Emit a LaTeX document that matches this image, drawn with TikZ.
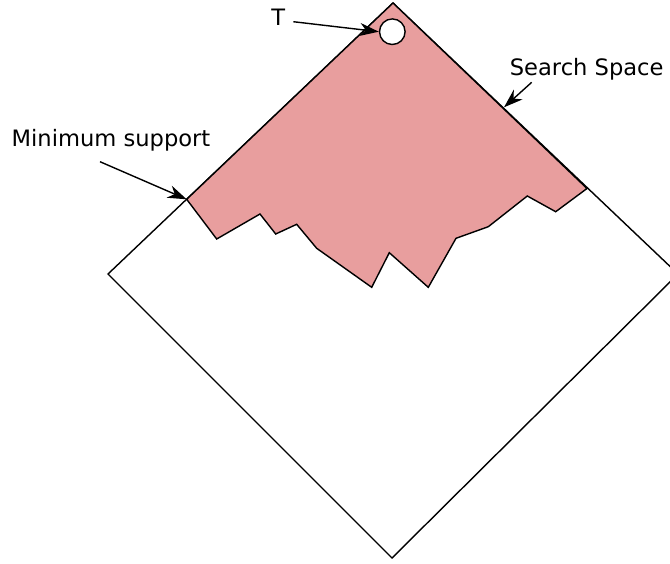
\documentclass[tikz,border=0pt]{standalone}
\usepackage{fontspec}
\setmainfont{DejaVu Sans}
\usetikzlibrary{arrows.meta}
\definecolor{regionfill}{RGB}{232,158,158}
\begin{document}
\begin{tikzpicture}[x=1pt,y=-1pt, line width=1.4pt, line join=miter,
  lbl/.style={font=\fontsize{22.6}{26}\selectfont, inner sep=0pt, anchor=base},
  pointer/.style={-{Stealth[length=19pt,width=13pt,inset=6pt]}, line width=1.4pt}]
\useasboundingbox (0,0) rectangle (670,563);
\clip (0,0) rectangle (670,563);
% diamond
\coordinate (top) at (393,3);
\coordinate (right) at (678,274);
\coordinate (bottom) at (392,558);
\coordinate (left) at (108,274);
\draw (top) -- (right) -- (bottom) -- (left) -- cycle;
% frequent region
\coordinate (l1) at (186.7,199.3);
\coordinate (r1) at (587,188.5);
\draw[fill=regionfill] (top) -- (r1) -- (555.7,211.7) -- (527.3,196) -- (488.3,226.7)
  -- (456,238.3) -- (428.3,287.3) -- (389.3,252.7) -- (371.7,287.3) -- (316.7,248.3)
  -- (296.7,224.3) -- (275.7,234) -- (260,214) -- (216.7,239) -- (l1) -- cycle;
% T
\node[circle, draw, fill=white, minimum size=25.6pt, inner sep=0pt] (t) at (392.3,31.7) {};
\node[lbl] (tlabel) at (278.3,25.7) {T};
\coordinate (ts) at (293.3,21.7);
\draw[pointer] (ts) -- (t.west);
% minimum support
\node[lbl] (minsup) at (111,146.7) {Minimum support};
\coordinate (ms) at (100,161.7);
\draw[pointer] (ms) -- (l1);
% search space
\node[lbl] (ss) at (586.7,75) {Search Space};
\coordinate (sss) at (531.7,82.3);
\coordinate (sse) at (504,107.3);
\draw[pointer] (sss) -- (sse);
\end{tikzpicture}
\end{document}
